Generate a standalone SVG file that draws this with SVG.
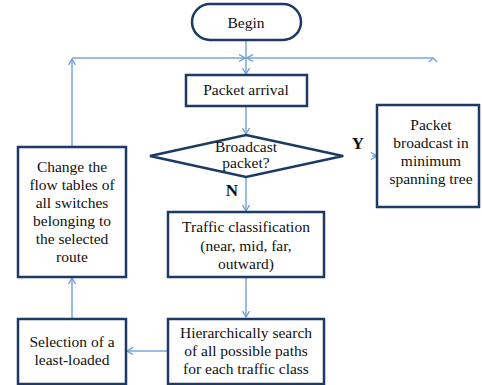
<svg xmlns="http://www.w3.org/2000/svg" width="482" height="385" viewBox="0 0 482 385">
<defs>
<marker id="ah" viewBox="0 0 8 8" refX="7" refY="4" markerWidth="8" markerHeight="8" markerUnits="userSpaceOnUse" orient="auto">
<path d="M1,0.5 L7,4 L1,7.5" fill="none" stroke="#6f9bd6" stroke-width="1.3"/>
</marker>
</defs>
<style>
.box{fill:#ffffff;stroke:#1c3a63;stroke-width:2.5}
text{font-family:'Liberation Serif','Times New Roman',serif}
.t{font-size:15.5px;fill:#111111;text-anchor:middle}
.lbl{font-size:17px;font-weight:bold;fill:#111111;text-anchor:middle}
.c{fill:none;stroke:#7aa6dc;stroke-width:1.5}
.ca{fill:none;stroke:#7aa6dc;stroke-width:1.5;marker-end:url(#ah)}
</style>
<rect width="482" height="385" fill="#ffffff"/>
<g id="connectors">
<path class="ca" d="M246,40 L246,74"/>
<path class="ca" d="M72,147 L72,59"/>
<path class="ca" d="M72,58 L245,58"/>
<path class="ca" d="M433,58 L247,58"/>
<path class="c" d="M429,62 L433,58 L437,62"/>
<path class="ca" d="M246,106 L246,134"/>
<path class="c" d="M342,156 L344,156"/>
<path class="ca" d="M372,156 L377,156"/>
<path class="ca" d="M246,177 L246,211"/>
<path class="ca" d="M246,277 L246,317"/>
<path class="ca" d="M168,351 L127,351"/>
<path class="ca" d="M72,319 L72,278"/>
</g>
<g id="begin">
<rect class="box" x="192" y="4" width="109" height="36" rx="18" ry="18"/>
<text class="t" x="246" y="28">Begin</text>
</g>
<g id="packet-arrival">
<rect class="box" x="186" y="75" width="121" height="31"/>
<text class="t" x="246" y="95">Packet arrival</text>
</g>
<g id="broadcast-decision">
<polygon class="box" points="246,135 343,156 246,177 150,156"/>
<text class="t" x="246" y="152">Broadcast</text>
<text class="t" x="246" y="168">packet?</text>
</g>
<g id="labels">
<text class="lbl" x="358" y="149">Y</text>
<text class="lbl" x="232" y="196">N</text>
</g>
<g id="packet-broadcast">
<rect class="box" x="377" y="105" width="102" height="102"/>
<text class="t" x="431" y="130">Packet</text>
<text class="t" x="431" y="148">broadcast in</text>
<text class="t" x="431" y="166">minimum</text>
<text class="t" x="431" y="184">spanning tree</text>
</g>
<g id="traffic-classification">
<rect class="box" x="168" y="212" width="156" height="65"/>
<text class="t" x="246" y="232">Traffic classification</text>
<text class="t" x="246" y="251">(near, mid, far,</text>
<text class="t" x="246" y="269">outward)</text>
</g>
<g id="hierarchical-search">
<rect class="box" x="168" y="319" width="156" height="65"/>
<text class="t" x="246" y="338">Hierarchically search</text>
<text class="t" x="246" y="356">of all possible paths</text>
<text class="t" x="246" y="374">for each traffic class</text>
</g>
<g id="selection">
<rect class="box" x="18" y="319" width="108" height="65"/>
<text class="t" x="72" y="347">Selection of a</text>
<text class="t" x="72" y="365">least-loaded</text>
</g>
<g id="change-flow-tables">
<rect class="box" x="18" y="147" width="108" height="130"/>
<text class="t" x="72" y="172">Change the</text>
<text class="t" x="72" y="190">flow tables of</text>
<text class="t" x="72" y="208">all switches</text>
<text class="t" x="72" y="226">belonging to</text>
<text class="t" x="72" y="244">the selected</text>
<text class="t" x="72" y="262">route</text>
</g>
</svg>
